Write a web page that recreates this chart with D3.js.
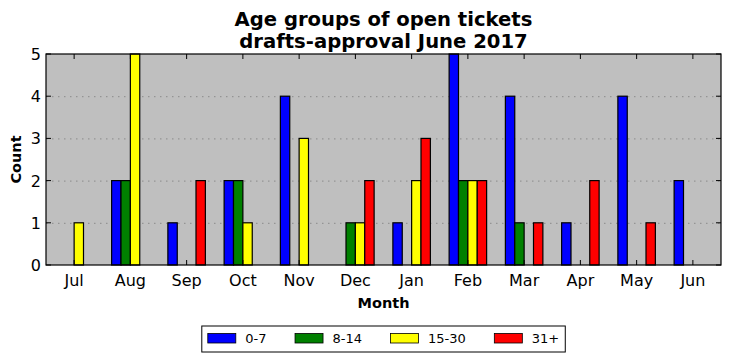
<!DOCTYPE html>
<html>
<head>
<meta charset="utf-8">
<script src="https://cdn.jsdelivr.net/npm/d3@7/dist/d3.min.js"></script>
<style>
  html, body { margin: 0; padding: 0; background: #fff; }
  svg { display: block; font-family: "DejaVu Sans", sans-serif; }
  .tick-label { font-size: 16px; fill: #000; }
  .axis-title { font-size: 14.5px; font-weight: bold; fill: #000; }
  .chart-title { font-size: 19.6px; font-weight: bold; fill: #000; }
  .legend-label { font-size: 13px; fill: #000; }
</style>
</head>
<body>
<svg id="chart"></svg>
<script>
// Open tickets per month, split by age group.
const months = ['Jul', 'Aug', 'Sep', 'Oct', 'Nov', 'Dec', 'Jan', 'Feb', 'Mar', 'Apr', 'May', 'Jun'];
const groups = ['0-7', '8-14', '15-30', '31+'];
const age0to7 = [0, 2, 1, 2, 4, 0, 1, 5, 4, 1, 4, 2];
const age8to14 = [0, 2, 0, 2, 0, 1, 0, 2, 1, 0, 0, 0];
const age15to30 = [1, 5, 0, 1, 3, 1, 2, 2, 0, 0, 0, 0];
const age31plus = [0, 0, 2, 0, 0, 2, 3, 2, 1, 2, 1, 0];
const yTicks = [0, 1, 2, 3, 4, 5];

const WIDTH = 731;
const HEIGHT = 361;
const M = { left: 46, right: 10, top: 54, bottom: 96 };
const COLORS = ['#0000ff', '#008000', '#ffff00', '#ff0000'];
const BAR_W = 1 / 6; // in category units
const TICK = 5;

const series = [age0to7, age8to14, age15to30, age31plus];

const svg = d3.select('#chart').attr('width', WIDTH).attr('height', HEIGHT);
const x0 = M.left;
const x1 = WIDTH - M.right;
const y0 = HEIGHT - M.bottom;
const y1 = M.top;

// Category index -> px, with half a category of room on each side.
const x = d3.scaleLinear().domain([-0.5, months.length - 0.5]).range([x0, x1]);
const y = d3.scaleLinear().domain([0, 5]).range([y0, y1]);

// Plot background
svg.append('rect')
  .attr('x', x0).attr('y', y1)
  .attr('width', x1 - x0).attr('height', y0 - y1)
  .attr('fill', '#bfbfbf');

// Dotted horizontal grid
svg.append('g')
  .selectAll('line')
  .data(yTicks.filter((d) => d > 0 && d < 5))
  .join('line')
  .attr('x1', x0).attr('x2', x1)
  .attr('y1', (d) => y(d) + 0.5).attr('y2', (d) => y(d) + 0.5)
  .attr('stroke', '#8a8a8a')
  .attr('stroke-width', 1)
  .attr('stroke-dasharray', '1.5,4.5');

// Bars: four per month, centred on the month tick.
const bars = [];
series.forEach((vals, si) => {
  vals.forEach((v, mi) => bars.push({ si, mi, v }));
});
svg.append('g')
  .selectAll('rect')
  .data(bars)
  .join('rect')
  .attr('x', (d) => x(d.mi + (d.si - 2) * BAR_W))
  .attr('y', (d) => y(d.v))
  .attr('width', (d) => x(BAR_W) - x(0))
  .attr('height', (d) => y(0) - y(d.v))
  .attr('fill', (d) => COLORS[d.si])
  .attr('stroke', '#000')
  .attr('stroke-width', 1.2);

// Axes frame
svg.append('rect')
  .attr('x', x0).attr('y', y1)
  .attr('width', x1 - x0).attr('height', y0 - y1)
  .attr('fill', 'none')
  .attr('stroke', '#000')
  .attr('stroke-width', 1.2);

// X ticks (inward, bottom and top) + labels
const xt = svg.append('g');
xt.selectAll('line.b')
  .data(months)
  .join('line')
  .attr('class', 'b')
  .attr('x1', (d, i) => x(i)).attr('x2', (d, i) => x(i))
  .attr('y1', y0).attr('y2', y0 - TICK)
  .attr('stroke', '#000');
xt.selectAll('line.t')
  .data(months)
  .join('line')
  .attr('class', 't')
  .attr('x1', (d, i) => x(i)).attr('x2', (d, i) => x(i))
  .attr('y1', y1).attr('y2', y1 + TICK)
  .attr('stroke', '#000');
xt.selectAll('text')
  .data(months)
  .join('text')
  .attr('class', 'tick-label')
  .attr('x', (d, i) => x(i))
  .attr('y', y0 + 21)
  .attr('text-anchor', 'middle')
  .text((d) => d);

// Y ticks (inward, left and right) + labels
const yt = svg.append('g');
yt.selectAll('line.l')
  .data(yTicks)
  .join('line')
  .attr('class', 'l')
  .attr('x1', x0).attr('x2', x0 + TICK)
  .attr('y1', (d) => y(d)).attr('y2', (d) => y(d))
  .attr('stroke', '#000');
yt.selectAll('line.r')
  .data(yTicks)
  .join('line')
  .attr('class', 'r')
  .attr('x1', x1).attr('x2', x1 - TICK)
  .attr('y1', (d) => y(d)).attr('y2', (d) => y(d))
  .attr('stroke', '#000');
yt.selectAll('text')
  .data(yTicks)
  .join('text')
  .attr('class', 'tick-label')
  .attr('x', x0 - 5)
  .attr('y', (d) => y(d) + 6)
  .attr('text-anchor', 'end')
  .text((d) => d);

// Axis titles
svg.append('text')
  .attr('class', 'axis-title')
  .attr('x', (x0 + x1) / 2)
  .attr('y', 308)
  .attr('text-anchor', 'middle')
  .text('Month');
svg.append('text')
  .attr('class', 'axis-title')
  .attr('transform', `translate(21,${(y0 + y1) / 2}) rotate(-90)`)
  .attr('text-anchor', 'middle')
  .text('Count');

// Title (two lines)
const title = svg.append('text')
  .attr('class', 'chart-title')
  .attr('text-anchor', 'middle');
title.append('tspan').attr('x', (x0 + x1) / 2).attr('y', 26).text('Age groups of open tickets');
title.append('tspan').attr('x', (x0 + x1) / 2).attr('y', 48).text('drafts-approval June 2017');

// Legend below the plot, centred
const leg = svg.append('g');
const legBox = leg.append('rect')
  .attr('fill', '#fff')
  .attr('stroke', '#000')
  .attr('stroke-width', 1);
const PATCH_W = 28;
const PATCH_H = 9.5;
let cx = 6;
groups.forEach((g, i) => {
  const item = leg.append('g');
  item.append('rect')
    .attr('x', cx).attr('y', 7.5)
    .attr('width', PATCH_W).attr('height', PATCH_H)
    .attr('fill', COLORS[i])
    .attr('stroke', '#000')
    .attr('stroke-width', 0.8);
  const t = item.append('text')
    .attr('class', 'legend-label')
    .attr('x', cx + PATCH_W + 9.5)
    .attr('y', 17)
    .text(g);
  const tw = t.node().getComputedTextLength();
  cx += PATCH_W + 9.5 + tw + (i < groups.length - 1 ? 28.5 : 6);
});
const legW = cx;
legBox.attr('x', 0).attr('y', 0).attr('width', legW).attr('height', 26);
leg.attr('transform', `translate(${((x0 + x1) / 2 - legW / 2).toFixed(1)},326)`);
</script>
</body>
</html>
